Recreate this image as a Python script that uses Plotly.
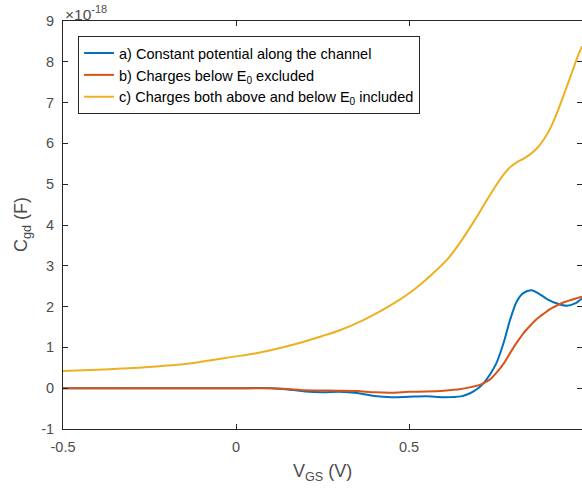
import plotly.graph_objects as go

# Data (C_gd in units of 1e-18 F)
xa = [-0.5, -0.25, 0.0, 0.1, 0.15, 0.2, 0.25, 0.3, 0.35, 0.4, 0.45, 0.5, 0.55, 0.6, 0.65, 0.675,
      0.7, 0.715, 0.735, 0.753, 0.773, 0.792, 0.811, 0.83, 0.855, 0.875, 0.9, 0.93, 0.956, 0.98, 1.0]
ya = [0, 0, 0, 0, -0.03, -0.08, -0.1, -0.09, -0.12, -0.19, -0.22, -0.21, -0.2, -0.22, -0.2, -0.13,
      0.0, 0.12, 0.35, 0.62, 1.1, 1.67, 2.12, 2.33, 2.4, 2.32, 2.18, 2.07, 2.02, 2.08, 2.2]

xb = [-0.5, 0.0, 0.1, 0.15, 0.2, 0.3, 0.35, 0.4, 0.45, 0.5, 0.55, 0.6, 0.65, 0.675, 0.7, 0.715,
      0.735, 0.753, 0.775, 0.792, 0.81, 0.83, 0.85, 0.87, 0.89, 0.91, 0.946, 0.975, 1.0]
yb = [0, 0, 0, -0.02, -0.05, -0.06, -0.07, -0.1, -0.11, -0.09, -0.08, -0.06, -0.02, 0.02, 0.07, 0.12,
      0.22, 0.38, 0.62, 0.86, 1.1, 1.34, 1.53, 1.7, 1.83, 1.95, 2.1, 2.18, 2.24]

xc = [-0.5, -0.4, -0.33, -0.25, -0.14, -0.04, 0.0, 0.055, 0.1, 0.175, 0.25, 0.3, 0.368, 0.42, 0.464,
      0.512, 0.561, 0.61, 0.65, 0.69, 0.73, 0.75, 0.77, 0.79, 0.81, 0.83, 0.85, 0.87, 0.89, 0.91,
      0.93, 0.95, 0.97, 0.99, 1.0]
yc = [0.42, 0.45, 0.48, 0.52, 0.6, 0.73, 0.78, 0.85, 0.93, 1.09, 1.28, 1.42, 1.67, 1.9, 2.12,
      2.4, 2.75, 3.15, 3.6, 4.12, 4.68, 4.95, 5.2, 5.4, 5.53, 5.62, 5.73, 5.88, 6.1, 6.4,
      6.8, 7.25, 7.72, 8.18, 8.38]

names = ["a) Constant potential along the channel",
         "b) Charges below E<sub>0</sub> excluded",
         "c) Charges both above and below E<sub>0</sub> included"]
colors = ["#0072BD", "#D95319", "#EDB120"]

xticks = [-0.5, 0, 0.5, 1]
xticktext = ["-0.5", "0", "0.5", "1"]
yticks = list(range(-1, 10))
yticktext = [str(v) for v in yticks]

FONT = "Liberation Sans, Arial"

fig = go.Figure()
for x, y, n, c in zip([xa, xb, xc], [ya, yb, yc], names, colors):
    fig.add_trace(go.Scatter(x=x, y=y, mode="lines", name=n,
                             line=dict(color=c, width=2, shape="spline", smoothing=0.8)))

axis_common = dict(showgrid=False, zeroline=False, showline=True, linecolor="#262626",
                   linewidth=1, ticks="inside", ticklen=5, tickcolor="#262626", mirror="ticks",
                   tickfont=dict(family=FONT, size=14.5, color="#4d4d4d"))

fig.update_layout(
    width=582, height=493,
    margin=dict(l=63, r=0, t=21, b=64),
    plot_bgcolor="white", paper_bgcolor="white",
    font=dict(family=FONT, color="#262626"),
    xaxis=dict(range=[-0.5, 1.0], tickvals=xticks, ticktext=xticktext,
               ticklabelstandoff=5, **axis_common),
    yaxis=dict(range=[-1, 9], tickvals=yticks, ticktext=yticktext,
               ticklabelstandoff=5, **axis_common),
    showlegend=True,
    legend=dict(x=0.029, y=0.963, xanchor="left", yanchor="top",
                bordercolor="#262626", borderwidth=1, bgcolor="white",
                font=dict(family=FONT, size=14.5, color="#000000"),
                itemwidth=30, tracegroupgap=0),
    annotations=[
        dict(text="×10<sup>-18</sup>", xref="paper", yref="paper", x=0.0, y=1.0,
             xanchor="left", yanchor="bottom", yshift=-4, showarrow=False,
             font=dict(family=FONT, size=15.5, color="#4d4d4d")),
        dict(text="V<sub>GS</sub> (V)", xref="paper", yref="paper", x=0.5, y=0,
             xanchor="center", yanchor="middle", yshift=-43, showarrow=False,
             font=dict(family=FONT, size=18, color="#4d4d4d")),
        dict(text="C<sub>gd</sub> (F)", xref="paper", yref="paper", x=0, y=0.5,
             xanchor="center", yanchor="middle", xshift=-41, textangle=-90, showarrow=False,
             font=dict(family=FONT, size=18, color="#4d4d4d")),
    ],
)

fig.write_html("out.html")
